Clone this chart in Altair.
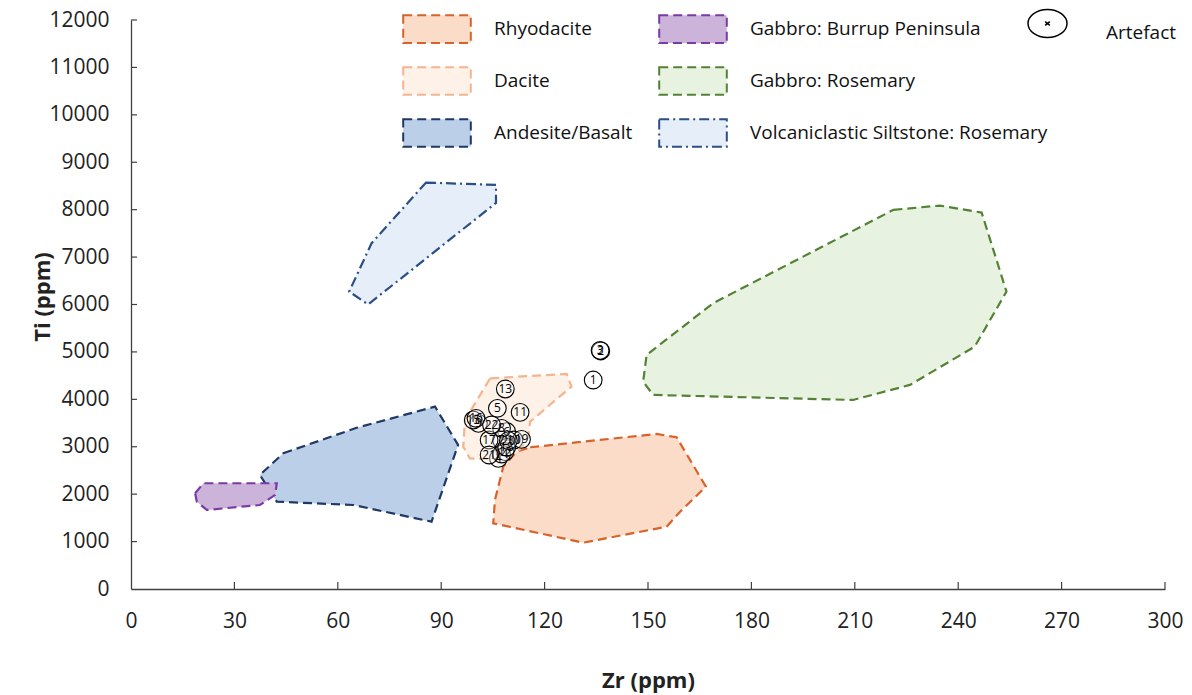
import altair as alt
import pandas as pd

# ---------------- data ----------------
groups_draw = [
    "Volcaniclastic Siltstone: Rosemary",
    "Andesite/Basalt",
    "Gabbro: Burrup Peninsula",
    "Gabbro: Rosemary",
    "Rhyodacite",
    "Dacite",
]
poly_zr = {
    "Volcaniclastic Siltstone: Rosemary": [85.6, 105.9, 105.9, 68.8, 63.3, 69.8],
    "Andesite/Basalt": [44.2, 65.5, 88.2, 94.9, 87.2, 64.5, 42.3, 37.4],
    "Gabbro: Burrup Peninsula": [18.6, 21.0, 42.3, 41.8, 37.4, 22.0, 19.1],
    "Gabbro: Rosemary": [221.2, 234.7, 246.8, 254.0, 244.8, 226.0, 209.5, 151.5, 148.6, 149.6, 168.9],
    "Rhyodacite": [115.8, 152.5, 158.3, 166.8, 159.3, 155.4, 131.2, 105.1, 105.6, 108.0, 111.9],
    "Dacite": [104.2, 126.4, 127.8, 115.8, 115.3, 113.3, 108.5, 98.3, 96.4, 96.9],
}
poly_ti = {
    "Volcaniclastic Siltstone: Rosemary": [8572, 8523, 8143, 6000, 6272, 7293],
    "Andesite/Basalt": [2863, 3400, 3846, 3038, 1420, 1772, 1842, 2405],
    "Gabbro: Burrup Peninsula": [2019, 2230, 2230, 1983, 1772, 1667, 1842],
    "Gabbro: Rosemary": [7996, 8087, 7939, 6272, 5112, 4304, 3987, 4093, 4373, 4937, 6027],
    "Rhyodacite": [2989, 3270, 3200, 2158, 1631, 1314, 977, 1386, 1878, 2581, 2897],
    "Dacite": [4443, 4536, 4268, 3530, 3213, 2967, 2720, 2756, 3001, 3564],
}

# legend is laid out column by column
legend_order = [
    "Rhyodacite", "Dacite", "Andesite/Basalt",
    "Gabbro: Burrup Peninsula", "Gabbro: Rosemary", "Volcaniclastic Siltstone: Rosemary",
]
fill_colors = ["#FADCC9", "#FEF1E8", "#BBD0E8", "#CBB3D9", "#E8F2E1", "#E6EFF9"]
stroke_colors = ["#D8622A", "#F4B58E", "#1F3864", "#7A3BA8", "#548235", "#2B4E86"]
dashes = [[9, 5], [9, 5], [9, 5], [9, 5], [9, 5], [10, 4, 2, 4]]

art_label = ["1", "2", "3", "4", "5", "6", "7", "8", "9", "10", "11",
             "12", "13", "14", "15", "16", "17", "18", "19", "20", "21", "22"]
art_zr = [134.1, 136.3, 136.1, 106.6, 106.3, 109.0, 107.5, 107.5, 100.8, 111.1, 112.9,
          108.5, 108.6, 107.5, 99.3, 100.1, 103.9, 109.0, 113.3, 109.5, 103.9, 104.6]
art_ti = [4407, 5020, 5030, 2756, 3811, 3318, 3142, 3389, 3494, 3142, 3726,
          2896, 4218, 2847, 3564, 3600, 3142, 2988, 3156, 3128, 2826, 3459]

x_ticks = [0, 30, 60, 90, 120, 150, 180, 210, 240, 270, 300]
y_ticks = [0, 1000, 2000, 3000, 4000, 5000, 6000, 7000, 8000, 9000, 10000, 11000, 12000]

# ---------------- tables ----------------
rows = []
for g in groups_draw:
    for i, (zx, ty) in enumerate(zip(poly_zr[g], poly_ti[g])):
        rows.append({"group": g, "i": i, "zr": zx, "ti": ty})
poly_df = pd.DataFrame(rows)
art_df = pd.DataFrame({"label": art_label, "zr": art_zr, "ti": art_ti, "kind": "Artefact"})
xt_df = pd.DataFrame({"v": x_ticks[1:]})
yt_df = pd.DataFrame({"v": y_ticks[1:]})

W, H = 1034, 569
FONT = "Open Sans"

xscale = alt.Scale(domain=[0, 300], nice=False, zero=False)
yscale = alt.Scale(domain=[0, 12000], nice=False, zero=False)

x_axis = alt.Axis(values=x_ticks, ticks=False, grid=False, domainColor="#404040",
                  domainWidth=1.3, labelFont=FONT, labelFontSize=21, labelColor="#222222",
                  labelPadding=21, title="Zr (ppm)", titleFont=FONT, titleFontSize=22,
                  titleFontWeight="bold", titleColor="#222222", titleX=W / 2, titleY=91,
                  titleBaseline="middle", titleAlign="center", format="d", labelFlush=False)
y_axis = alt.Axis(values=y_ticks, ticks=False, grid=False, domainColor="#404040",
                  domainWidth=1.3, labelFont=FONT, labelFontSize=21, labelColor="#222222",
                  labelPadding=22, title="Ti (ppm)", titleFont=FONT, titleFontSize=22,
                  titleFontWeight="bold", titleColor="#222222", titleX=-89, titleY=H / 2 - 8,
                  titleBaseline="middle", titleAlign="center", labelFlush=False, format="d")

rect_path = "M-1.3,-0.53L1.3,-0.53L1.3,0.53L-1.3,0.53Z"
ell_path = ("M-1,0C-1,-0.398,-0.552,-0.72,0,-0.72C0.552,-0.72,1,-0.398,1,0"
            "C1,0.398,0.552,0.72,0,0.72C-0.552,0.72,-1,0.398,-1,0Z"
            "M-0.12,-0.1L0.12,0.1M0.12,-0.1L-0.12,0.1")

polys = alt.Chart(poly_df).mark_line(interpolate="linear-closed", strokeWidth=2.2).encode(
    x=alt.X("zr:Q", scale=xscale, axis=x_axis),
    y=alt.Y("ti:Q", scale=yscale, axis=y_axis),
    order=alt.Order("i:Q"),
    fill=alt.Fill("group:N", scale=alt.Scale(domain=legend_order, range=fill_colors),
                  legend=alt.Legend(orient="none", legendX=279, legendY=-18, columns=2,
                                    title=None, symbolType=rect_path, symbolSize=2704,
                                    symbolStrokeWidth=2, labelFont=FONT, labelFontSize=19,
                                    labelColor="#111111", labelOffset=30, columnPadding=22,
                                    rowPadding=7, padding=0, labelLimit=500)),
    stroke=alt.Stroke("group:N", scale=alt.Scale(domain=legend_order, range=stroke_colors)),
    strokeDash=alt.StrokeDash("group:N", scale=alt.Scale(domain=legend_order, range=dashes)),
)

pts = alt.Chart(art_df).mark_point(shape="circle", size=314, fill="white", fillOpacity=0.35,
                                   strokeWidth=1.1, opacity=1).encode(
    x=alt.X("zr:Q", scale=xscale),
    y=alt.Y("ti:Q", scale=yscale),
    color=alt.Color("kind:N", scale=alt.Scale(domain=["Artefact"], range=["black"]),
                    legend=alt.Legend(orient="none", legendX=896, legendY=-17, title=None,
                                      symbolType=ell_path, symbolSize=1521,
                                      symbolFillColor="white", symbolStrokeWidth=1.5,
                                      symbolOpacity=1, labelFont=FONT,
                                      labelFontSize=19, labelColor="#111111",
                                      labelOffset=38, labelBaseline="top", padding=0)),
)

txt = alt.Chart(art_df).mark_text(font=FONT, fontSize=12, color="black").encode(
    x=alt.X("zr:Q", scale=xscale),
    y=alt.Y("ti:Q", scale=yscale),
    text="label:N",
)

xticks = alt.Chart(xt_df).mark_rule(color="#404040", strokeWidth=1.2).encode(
    x=alt.X("v:Q", scale=xscale),
    y=alt.value(H), y2=alt.value(H - 7),
)
yticks = alt.Chart(yt_df).mark_rule(color="#404040", strokeWidth=1.2).encode(
    y=alt.Y("v:Q", scale=yscale),
    x=alt.value(0), x2=alt.value(6),
)

chart = alt.layer(polys, pts, txt, xticks, yticks).properties(
    width=W, height=H,
    autosize=alt.AutoSizeParams(type="none"),
    padding={"left": 131, "top": 20, "right": 27, "bottom": 106},
    background="white",
).configure_view(stroke=None)

chart.save("out.html", embed_options={"renderer": "svg", "actions": False})
